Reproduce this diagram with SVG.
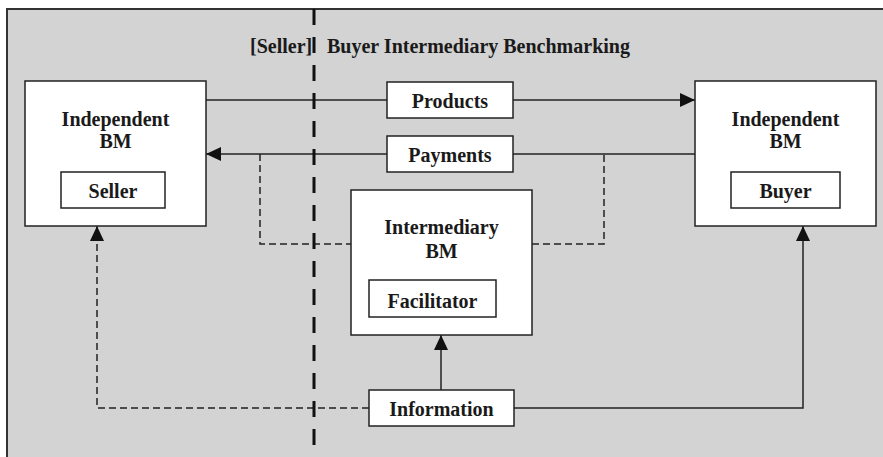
<svg xmlns="http://www.w3.org/2000/svg" width="883" height="457" viewBox="0 0 883 457">
<style>
.box{fill:#fff;stroke:#222;stroke-width:1.5}
.t{font-family:"Liberation Serif","Times New Roman",serif;font-weight:bold;font-size:20px;fill:#1a1a1a;text-anchor:middle}
.ln{fill:none;stroke:#222;stroke-width:1.5}
.dl{fill:none;stroke:#222;stroke-width:1.5;stroke-dasharray:7 4}
</style>
<defs>
<marker id="ah" markerUnits="userSpaceOnUse" markerWidth="16" markerHeight="14" refX="15" refY="7" orient="auto">
<path d="M0,0 L15,7 L0,14 Z" fill="#111"/>
</marker>
</defs>
<rect x="7" y="9" width="890" height="460" fill="#d3d3d3" stroke="#333" stroke-width="2"/>
<text class="t" x="250" y="53" style="text-anchor:start">[Seller]</text>
<text class="t" x="327" y="53" style="text-anchor:start">Buyer Intermediary Benchmarking</text>
<g id="connectors">
<line class="ln" x1="206" y1="100" x2="387" y2="100"/>
<line class="ln" x1="513" y1="100" x2="695" y2="100" marker-end="url(#ah)"/>
<line class="ln" x1="695" y1="154" x2="513" y2="154"/>
<line class="ln" x1="387" y1="154" x2="206" y2="154" marker-end="url(#ah)"/>
<polyline class="dl" points="260,154 260,244 351,244"/>
<polyline class="dl" points="532,244 604,244 604,154"/>
<line class="ln" x1="441" y1="390" x2="441" y2="335" marker-end="url(#ah)"/>
<polyline class="dl" points="369,408 97,408 97,226" marker-end="url(#ah)"/>
<polyline class="ln" points="514,408 803,408 803,226" marker-end="url(#ah)"/>
<line x1="314" y1="9" x2="314" y2="447" stroke="#111" stroke-width="3" stroke-dasharray="16 12"/>
</g>
<g id="seller">
<rect class="box" x="25" y="81" width="181" height="145"/>
<text class="t" x="115.5" y="126">Independent</text>
<text class="t" x="115.5" y="148">BM</text>
<rect class="box" x="61" y="172" width="104" height="36"/>
<text class="t" x="113" y="198">Seller</text>
</g>
<g id="buyer">
<rect class="box" x="695" y="81" width="181" height="145"/>
<text class="t" x="785.5" y="126">Independent</text>
<text class="t" x="785.5" y="148">BM</text>
<rect class="box" x="731" y="172" width="109" height="36"/>
<text class="t" x="785.5" y="198">Buyer</text>
</g>
<g id="intermediary">
<rect class="box" x="351" y="190" width="181" height="145"/>
<text class="t" x="441.5" y="234">Intermediary</text>
<text class="t" x="441.5" y="258">BM</text>
<rect class="box" x="369" y="280" width="127" height="37"/>
<text class="t" x="432.5" y="308">Facilitator</text>
</g>
<g id="products">
<rect class="box" x="387" y="82" width="126" height="36"/>
<text class="t" x="450" y="108">Products</text>
</g>
<g id="payments">
<rect class="box" x="387" y="136" width="126" height="36"/>
<text class="t" x="450" y="162">Payments</text>
</g>
<g id="information">
<rect class="box" x="369" y="390" width="145" height="36"/>
<text class="t" x="441.5" y="416">Information</text>
</g>
</svg>
